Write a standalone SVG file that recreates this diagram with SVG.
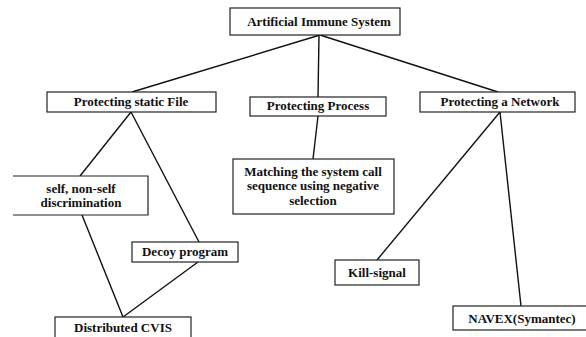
<svg xmlns="http://www.w3.org/2000/svg" width="586" height="337" viewBox="0 0 586 337">
<style>
.box{fill:#fff;stroke:#222;stroke-width:1.2}
.t{font-family:"Liberation Serif","Times New Roman",serif;font-weight:bold;font-size:13px;fill:#111;text-anchor:middle}
.c{stroke:#111;stroke-width:1.4;fill:none}
</style>
<rect width="586" height="337" fill="#fff"/>
<g id="connectors">
<line class="c" x1="320" y1="35" x2="132" y2="92"/>
<line class="c" x1="319" y1="35" x2="318" y2="97"/>
<line class="c" x1="320" y1="35" x2="498" y2="92"/>
<line class="c" x1="318" y1="116" x2="313" y2="159"/>
<line class="c" x1="131" y1="112" x2="80" y2="176"/>
<line class="c" x1="131" y1="112" x2="199" y2="242"/>
<line class="c" x1="82" y1="215" x2="123" y2="317"/>
<line class="c" x1="198" y1="262" x2="123" y2="317"/>
<line class="c" x1="500" y1="112" x2="377" y2="260"/>
<line class="c" x1="500" y1="112" x2="521" y2="306"/>
</g>
<g id="root">
<rect class="box" x="230" y="8" width="170" height="27"/>
<text class="t" x="319" y="26">Artificial Immune System</text>
</g>
<g id="static-file">
<rect class="box" x="47" y="92" width="169" height="20"/>
<text class="t" x="131" y="106">Protecting static File</text>
</g>
<g id="process">
<rect class="box" x="250" y="97" width="136" height="19"/>
<text class="t" x="318" y="110">Protecting Process</text>
</g>
<g id="network">
<rect class="box" x="420" y="92" width="155" height="20"/>
<text class="t" x="500" y="106">Protecting a Network</text>
</g>
<g id="matching">
<rect class="box" x="233" y="159" width="161" height="55"/>
<text class="t" x="313" y="176">Matching the system call</text>
<text class="t" x="313" y="190">sequence using negative</text>
<text class="t" x="313" y="205">selection</text>
</g>
<g id="self">
<path class="box" d="M13,176 H148 V215 H13"/>
<text class="t" x="81" y="193">self, non-self</text>
<text class="t" x="81" y="207">discrimination</text>
</g>
<g id="decoy">
<rect class="box" x="132" y="242" width="106" height="20"/>
<text class="t" x="185" y="256">Decoy program</text>
</g>
<g id="cvis">
<rect class="box" x="55" y="317" width="136" height="24"/>
<text class="t" x="123" y="332">Distributed CVIS</text>
</g>
<g id="kill">
<rect class="box" x="335" y="260" width="84" height="25"/>
<text class="t" x="377" y="277">Kill-signal</text>
</g>
<g id="navex">
<rect class="box" x="453" y="306" width="136" height="24"/>
<text class="t" x="522" y="323">NAVEX(Symantec)</text>
</g>
</svg>
